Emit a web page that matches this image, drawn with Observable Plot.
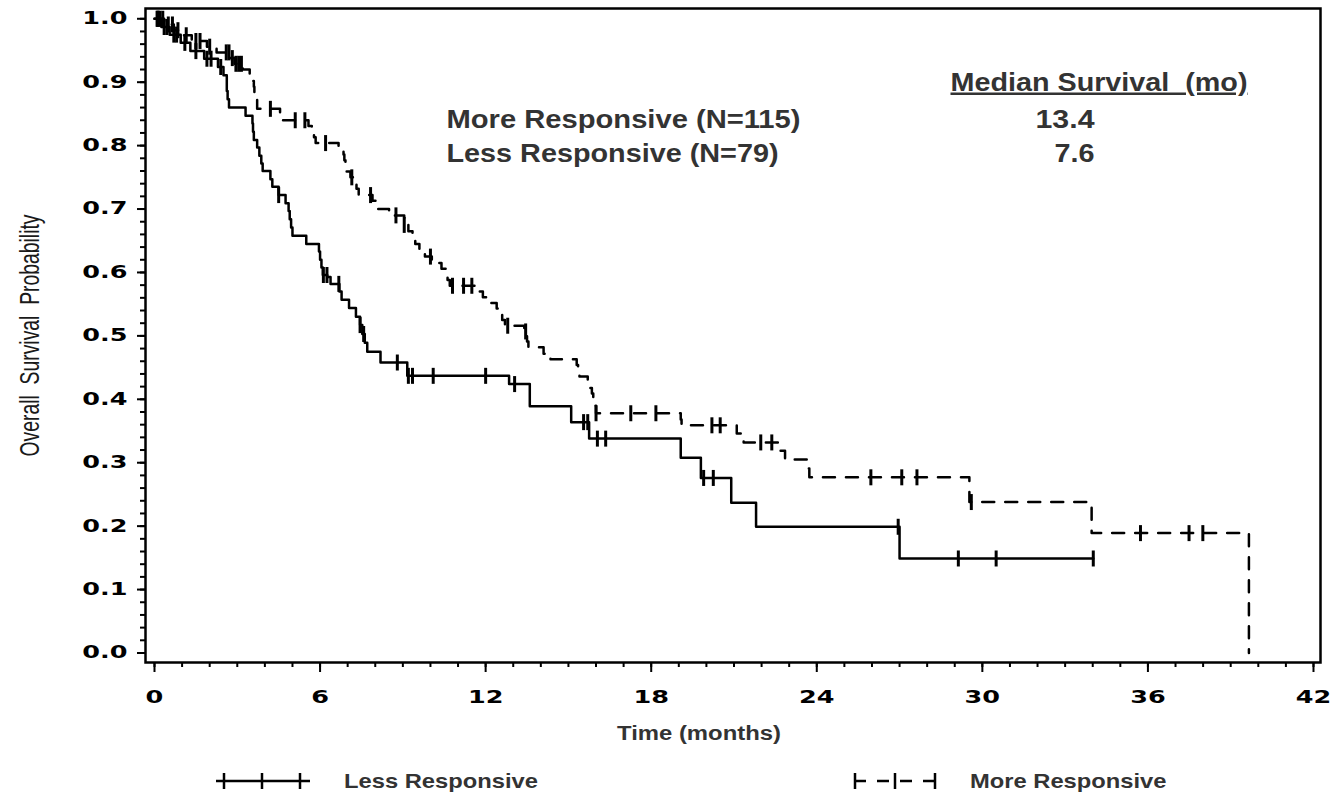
<!DOCTYPE html>
<html><head><meta charset="utf-8">
<script src="https://cdn.jsdelivr.net/npm/d3@7"></script>
<script src="https://cdn.jsdelivr.net/npm/@observablehq/plot@0.6"></script>
<style>
body{margin:0;background:#fff;}
#chart{width:1336px;height:760px;}
#legend{position:relative;width:1336px;height:39px;font-family:"Liberation Sans",Arial,sans-serif;font-weight:bold;font-size:21px;color:#333;}
#legend span{position:absolute;top:10px;line-height:22px;white-space:nowrap;transform-origin:left center;transform:scaleX(1.13);}
#legend svg{position:absolute;top:12px;}
</style></head><body>
<div id="chart"></div>
<div id="legend">
  <svg style="left:214px" width="100" height="20"><line x1="2" x2="96" y1="9" y2="9" stroke="#000" stroke-width="2.5"/><line x1="10" x2="10" y1="1" y2="17" stroke="#000" stroke-width="2.5"/><line x1="48" x2="48" y1="1" y2="17" stroke="#000" stroke-width="2.5"/><line x1="86" x2="86" y1="1" y2="17" stroke="#000" stroke-width="2.5"/></svg>
  <span style="left:344px">Less Responsive</span>
  <svg style="left:850px" width="100" height="20"><line x1="4" x2="88" y1="9" y2="9" stroke="#000" stroke-width="2.5" stroke-dasharray="12,11"/><line x1="5" x2="5" y1="1" y2="17" stroke="#000" stroke-width="2.5"/><line x1="45" x2="45" y1="1" y2="17" stroke="#000" stroke-width="2.5"/><line x1="85" x2="85" y1="1" y2="17" stroke="#000" stroke-width="2.5"/></svg>
  <span style="left:970px">More Responsive</span>
</div>
<script>
// ---- data ----
const xTicks = [0, 6, 12, 18, 24, 30, 36, 42];
const yTicks = [0.0, 0.1, 0.2, 0.3, 0.4, 0.5, 0.6, 0.7, 0.8, 0.9, 1.0];
const xMinorTicks = d3.range(0, 43, 1);
const yMinorTicks = d3.range(0, 51).map(i => i / 50);

// Less Responsive (N=79): step times (months) and survival after each step
const lessTime = [0, 0.25, 0.55, 0.95, 1.3, 1.8, 2.3, 2.5, 2.62, 2.65, 2.7, 3.3, 3.55, 3.57, 3.6, 3.72, 3.8, 3.87, 3.92, 4.2, 4.27, 4.5, 4.75, 4.86, 4.9, 4.95, 5.0, 5.5, 5.96, 6.0, 6.05, 6.1, 6.26, 6.38, 6.7, 6.78, 7.05, 7.3, 7.45, 7.53, 7.62, 7.71, 8.19, 9.16, 12.85, 13.6, 15.1, 15.75, 19.07, 19.8, 20.9, 21.8, 27.0, 34.02];
const lessSurv = [1.0, 0.987, 0.975, 0.962, 0.949, 0.937, 0.924, 0.911, 0.886, 0.873, 0.860, 0.847, 0.835, 0.822, 0.809, 0.797, 0.784, 0.772, 0.760, 0.747, 0.735, 0.722, 0.709, 0.697, 0.684, 0.671, 0.658, 0.645, 0.633, 0.620, 0.608, 0.596, 0.593, 0.582, 0.570, 0.557, 0.544, 0.530, 0.517, 0.503, 0.489, 0.475, 0.458, 0.437, 0.424, 0.389, 0.364, 0.338, 0.308, 0.276, 0.237, 0.199, 0.149, 0.149];
const lessCensor = [0.1, 0.15, 0.35, 0.45, 0.7, 0.8, 1.1, 1.5, 1.9, 2.05, 2.4, 4.5, 6.12, 6.25, 6.68, 7.45, 7.58, 8.8, 9.2, 9.35, 10.1, 12.0, 13.05, 15.55, 15.7, 16.05, 16.35, 19.9, 20.25, 26.95, 29.13, 30.5, 34.02];

// More Responsive (N=115)
const moreTime = [0, 0.35, 0.7, 1.0, 1.35, 1.9, 2.25, 2.75, 2.9, 3.2, 3.45, 3.55, 3.6, 3.62, 3.66, 3.72, 4.55, 4.6, 5.58, 5.7, 5.78, 5.84, 6.67, 6.85, 6.88, 6.92, 6.95, 7.1, 7.28, 7.32, 7.4, 7.9, 8.1, 8.5, 9.05, 9.2, 9.35, 9.45, 9.6, 9.8, 10.05, 10.4, 10.55, 10.62, 10.7, 11.7, 11.9, 12.15, 12.4, 12.45, 12.6, 12.7, 13.4, 13.5, 13.55, 14.1, 14.35, 15.3, 15.35, 15.4, 15.7, 15.78, 15.85, 15.9, 15.95, 16.0, 19.07, 19.1, 21.1, 21.35, 22.6, 22.85, 23.65, 23.73, 29.53, 33.96, 39.66];
const moreSurv = [1.0, 0.991, 0.982, 0.974, 0.965, 0.956, 0.947, 0.938, 0.929, 0.920, 0.911, 0.902, 0.893, 0.884, 0.875, 0.858, 0.849, 0.840, 0.831, 0.822, 0.813, 0.804, 0.795, 0.786, 0.777, 0.768, 0.759, 0.750, 0.741, 0.732, 0.722, 0.713, 0.700, 0.690, 0.675, 0.665, 0.655, 0.645, 0.635, 0.625, 0.615, 0.606, 0.597, 0.588, 0.579, 0.570, 0.561, 0.552, 0.543, 0.534, 0.525, 0.516, 0.507, 0.491, 0.482, 0.472, 0.463, 0.454, 0.445, 0.436, 0.427, 0.418, 0.409, 0.400, 0.390, 0.378, 0.368, 0.359, 0.346, 0.332, 0.319, 0.305, 0.291, 0.277, 0.238, 0.189, 0.0];
const moreCensor = [0.1, 0.2, 0.3, 0.5, 0.65, 0.85, 1.15, 1.5, 1.65, 2.0, 2.6, 2.7, 2.82, 2.95, 3.05, 3.15, 4.2, 5.1, 5.45, 6.2, 7.15, 7.83, 8.75, 9.05, 10.0, 10.8, 11.2, 11.5, 12.8, 13.45, 16.0, 17.26, 18.17, 20.2, 20.5, 21.97, 22.37, 25.96, 27.08, 27.63, 29.6, 35.73, 37.49, 37.99];

const yLabel = "Overall  Survival  Probability";
const xLabel = "Time (months)";
const medianHeader = "Median Survival  (mo)";
const groupLabels = ["More Responsive (N=115)", "Less Responsive (N=79)"];
const medianValues = ["13.4", "7.6"];

// ---- build tables ----
const toRows = (T, S) => T.map((t, i) => ({t, s: S[i]}));
function survAt(T, S, t) { let v = S[0]; for (let i = 0; i < T.length; i++) if (T[i] <= t) v = S[i]; return v; }
const lessData = toRows(lessTime, lessSurv);
const moreData = toRows(moreTime, moreSurv);
const lessCens = lessCensor.map(t => ({t, s: survAt(lessTime, lessSurv, t)}));
const moreCens = moreCensor.map(t => ({t, s: survAt(moreTime, moreSurv, t)}));

const censorTick = {draw(ctx) { ctx.moveTo(0, -8); ctx.lineTo(0, 8); }};
const annot = {fontFamily: "Liberation Sans, Arial, sans-serif", fontWeight: "bold", fontSize: 25, fill: "#333", lineAnchor: "middle", frameAnchor: "top-left", text: d => d};

const chart = Plot.plot({
  width: 1336, height: 760,
  marginLeft: 145, marginRight: 16, marginTop: 8, marginBottom: 98,
  x: {domain: [-0.326, 42.254], label: null},
  y: {domain: [-0.015, 1.0162], label: null},
  style: {fontFamily: "Liberation Sans, Arial, sans-serif", background: "white", color: "black", overflow: "visible"},
  marks: [
    Plot.axisY(yMinorTicks, {tickSize: 5, strokeWidth: 2, fill: "none", label: null}),
    Plot.axisY(yTicks, {tickSize: 8, strokeWidth: 2, tickPadding: 10, tickFormat: d3.format(".1f"), fontSize: 17, fontWeight: "bold", fontFamily: "DejaVu Sans", fill: "black", label: null}),
    Plot.axisX(xMinorTicks, {tickSize: 5, strokeWidth: 2, fill: "none", label: null}),
    Plot.axisX(xTicks, {tickSize: 10, strokeWidth: 2, tickPadding: 18, tickFormat: d => String(d), fontSize: 17, fontWeight: "bold", fontFamily: "DejaVu Sans", fill: "black", label: null}),
    Plot.frame({stroke: "black", strokeWidth: 2.5}),
    Plot.line(lessData, {x: "t", y: "s", curve: "step-after", stroke: "black", strokeWidth: 2.5}),
    Plot.line(moreData, {x: "t", y: "s", curve: "step-after", stroke: "black", strokeWidth: 2.5, strokeDasharray: "12,11"}),
    Plot.dot(lessCens, {x: "t", y: "s", symbol: censorTick, fill: "none", stroke: "black", strokeWidth: 3}),
    Plot.dot(moreCens, {x: "t", y: "s", symbol: censorTick, fill: "none", stroke: "black", strokeWidth: 3}),
    Plot.text([yLabel], {frameAnchor: "left", textAnchor: "middle", dx: -115, rotate: -90, fontSize: 20, fill: "#1a1a1a", lineAnchor: "middle", text: d => d}),
    Plot.text([xLabel], {frameAnchor: "bottom", dx: -34, dy: 71, fontSize: 19.5, fontWeight: "bold", fill: "#333", lineAnchor: "middle", text: d => d}),
    Plot.text([medianHeader], {...annot, textAnchor: "start", dx: 805, dy: 74}),
    Plot.text([groupLabels[0]], {...annot, textAnchor: "start", dx: 301, dy: 111}),
    Plot.text([groupLabels[1]], {...annot, textAnchor: "start", dx: 301, dy: 145}),
    Plot.text([medianValues[0]], {...annot, textAnchor: "end", dx: 949, dy: 111}),
    Plot.text([medianValues[1]], {...annot, textAnchor: "end", dx: 949, dy: 145})
  ]
});
document.getElementById("chart").append(chart);

// stretch text horizontally to match the reference's wide lettering
function setLen(el, len) { el.setAttribute("textLength", len.toFixed(1)); el.setAttribute("lengthAdjust", "spacingAndGlyphs"); }
chart.querySelectorAll('g[aria-label$="tick label"] text').forEach(el => setLen(el, el.getComputedTextLength() * 1.5));
const targets = {"Median Survival  (mo)": 297, "More Responsive (N=115)": 354, "Less Responsive (N=79)": 332, "13.4": 59, "7.6": 40, "Time (months)": 164};
chart.querySelectorAll("text").forEach(el => {
  const k = el.textContent;
  if (k === medianHeader || k === yLabel) el.style.whiteSpace = "pre";
  if (k in targets) setLen(el, targets[k]);
  if (k === medianHeader) el.style.textDecoration = "underline";
  if (k === yLabel) {
    // glyphs are stretched across the text (screen-horizontal) direction in the reference
    const tr = el.getAttribute("transform") || "";
    el.setAttribute("transform", tr + " scale(1,1.35)");
    setLen(el, 242);
  }
});
</script></body></html>
